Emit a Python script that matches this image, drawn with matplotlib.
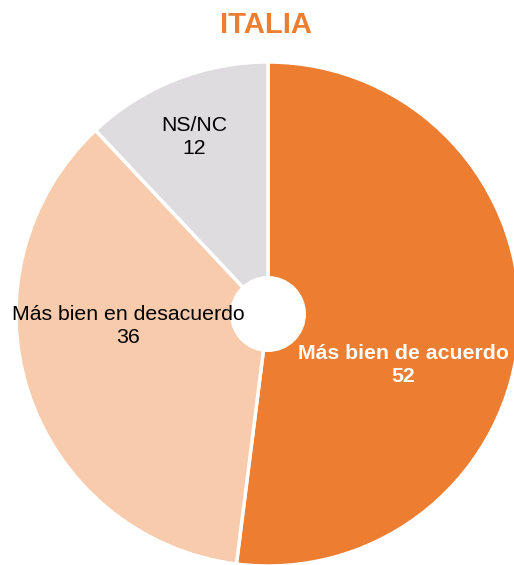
import matplotlib.pyplot as plt
from matplotlib.patches import Circle

plt.rcParams['font.family'] = ['Liberation Sans', 'DejaVu Sans']

# survey answers, Italy
labels = ['Más bien de acuerdo', 'Más bien en desacuerdo', 'NS/NC']
values = [52, 36, 12]
colors = ['#ED7D31', '#F7CBAC', '#DEDCDE']
text_colors = ['white', 'black', 'black']
bold = [True, False, False]

W, H = 514, 565
fig = plt.figure(figsize=(W / 100, H / 100), dpi=100)
ax = fig.add_axes([0, 0, 1, 1])

cx, cy, r = 268, H - 314, 252
ax.pie(values, colors=colors, startangle=90, counterclock=False,
       center=(cx, cy), radius=r, frame=True,
       wedgeprops=dict(edgecolor='white', linewidth=2.5))
ax.set_xlim(0, W)
ax.set_ylim(0, H)
ax.axis('off')

# white hole in the middle
ax.add_patch(Circle((cx, cy), 38, facecolor='white', edgecolor='none', zorder=5))

# label positions in pixel coords (x, y from top)
label_pos = [(403, 365), (128, 326), (194, 137)]
for lab, val, (x, y), c, b in zip(labels, values, label_pos, text_colors, bold):
    ax.text(x, H - y, f'{lab}\n{val}', ha='center', va='center', color=c,
            fontsize=15.3, fontweight='bold' if b else 'normal',
            linespacing=1.25, zorder=6)

fig.text(266 / W, 1 - 25 / H, 'ITALIA', ha='center', va='center',
         color='#ED7D31', fontsize=21, fontweight='bold')

fig.savefig('out.png', dpi=100)
